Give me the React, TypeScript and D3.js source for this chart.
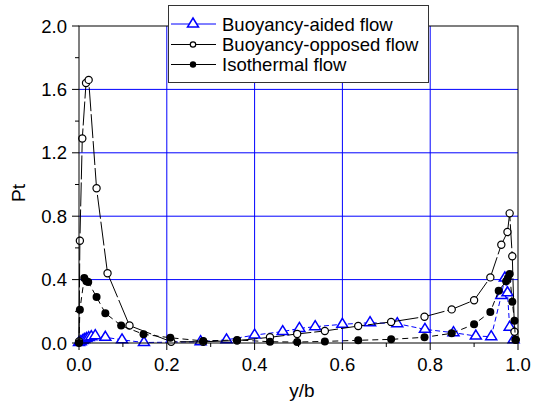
import React from "react";
import * as d3 from "d3";

// Normalised position across the channel (y/b) and turbulence production Pt
const aidedX = [0.0, 0.004, 0.008, 0.012, 0.017, 0.022, 0.028, 0.037, 0.06, 0.098, 0.148, 0.277, 0.336, 0.4, 0.464, 0.502, 0.538, 0.6, 0.663, 0.725, 0.788, 0.853, 0.904, 0.939, 0.962, 0.97, 0.976, 0.981, 0.99];
const aidedY = [0.003, 0.008, 0.015, 0.022, 0.028, 0.034, 0.04, 0.046, 0.036, 0.02, 0.003, 0.008, 0.02, 0.05, 0.072, 0.092, 0.103, 0.118, 0.128, 0.122, 0.086, 0.065, 0.044, 0.04, 0.3, 0.41, 0.317, 0.1, 0.02];

const opposedX = [0.0, 0.002, 0.0075, 0.016, 0.022, 0.04, 0.065, 0.115, 0.21, 0.283, 0.36, 0.435, 0.497, 0.56, 0.636, 0.711, 0.787, 0.849, 0.9, 0.937, 0.962, 0.976, 0.981, 0.987, 0.992, 0.995];
const opposedY = [0.01, 0.645, 1.29, 1.64, 1.66, 0.976, 0.44, 0.11, 0.008, 0.008, 0.015, 0.036, 0.057, 0.076, 0.107, 0.133, 0.166, 0.212, 0.27, 0.414, 0.62, 0.7, 0.818, 0.547, 0.071, 0.02];

const isoX = [0.0, 0.002, 0.012, 0.017, 0.021, 0.04, 0.06, 0.096, 0.147, 0.208, 0.283, 0.36, 0.435, 0.497, 0.56, 0.636, 0.711, 0.787, 0.849, 0.9, 0.937, 0.956, 0.973, 0.977, 0.981, 0.987, 0.992, 0.994];
const isoY = [0.0, 0.21, 0.41, 0.39, 0.385, 0.29, 0.188, 0.11, 0.055, 0.033, 0.013, 0.019, 0.008, 0.006, 0.01, 0.017, 0.023, 0.036, 0.061, 0.118, 0.196, 0.33, 0.39, 0.41, 0.435, 0.26, 0.14, 0.02];

const xTicks = [0, 0.2, 0.4, 0.6, 0.8, 1.0];
const yTicks = [0, 0.4, 0.8, 1.2, 1.6, 2.0];
const xMinor = [0.1, 0.3, 0.5, 0.7, 0.9];
const yMinor = [0.2, 0.6, 1.0, 1.4, 1.8];
const legendLabels = ["Buoyancy-aided flow", "Buoyancy-opposed flow", "Isothermal flow"];

const W = 536;
const H = 407;
const L = 79;
const R = 518;
const T = 26;
const B = 343;
const FONT = "'Liberation Sans', Arial, sans-serif";
const BLUE = "#0000ff";

const x = d3.scaleLinear().domain([0, 1]).range([L, R]);
const y = d3.scaleLinear().domain([0, 2]).range([B, T]);

type Pt = [number, number];
const zip = (xs: number[], ys: number[]): Pt[] => xs.map((v, i) => [v, ys[i]]);

const line = d3
  .line<Pt>()
  .x((d) => x(d[0]))
  .y((d) => y(d[1]));

const tri = (cx: number, cy: number, hw: number, h: number) =>
  `M${cx},${cy - (2 * h) / 3}L${cx + hw},${cy + h / 3}L${cx - hw},${cy + h / 3}Z`;

export default function App() {
  const aided = zip(aidedX, aidedY);
  const opposed = zip(opposedX, opposedY);
  const iso = zip(isoX, isoY);
  const fmt = d3.format(".1f");

  const legendRows = [T - 2, T + 18.5, T + 38.5];

  return (
    <svg width={W} height={H} style={{ position: "absolute", left: 0, top: 0 }} fontFamily={FONT}>
      <rect width={W} height={H} fill="#fff" />

      {/* grid */}
      {xTicks.slice(1, -1).map((t) => (
        <line key={"gx" + t} x1={x(t)} x2={x(t)} y1={T} y2={B} stroke={BLUE} strokeWidth={1} />
      ))}
      {yTicks.slice(1, -1).map((t) => (
        <line key={"gy" + t} x1={L} x2={R} y1={y(t)} y2={y(t)} stroke={BLUE} strokeWidth={1} />
      ))}

      {/* buoyancy-aided */}
      <path d={line(aided) || ""} fill="none" stroke={BLUE} strokeWidth={1} strokeDasharray="5,3" />
      {aided.map((d, i) => (
        <path key={"a" + i} d={tri(x(d[0]), y(d[1]), 5.5, 9)} fill="#fff" stroke={BLUE} strokeWidth={1.5} />
      ))}

      {/* buoyancy-opposed */}
      <path d={line(opposed) || ""} fill="none" stroke="#000" strokeWidth={1} strokeDasharray="24,3" />
      {opposed.map((d, i) => (
        <circle key={"o" + i} cx={x(d[0])} cy={y(d[1])} r={3.6} fill="#fff" stroke="#000" strokeWidth={1.2} />
      ))}

      {/* isothermal */}
      <path d={line(iso) || ""} fill="none" stroke="#000" strokeWidth={1} strokeDasharray="6,4" />
      {iso.map((d, i) => (
        <circle key={"i" + i} cx={x(d[0])} cy={y(d[1])} r={4} fill="#000" />
      ))}

      {/* frame */}
      <rect x={L} y={T} width={R - L} height={B - T} fill="none" stroke="#000" strokeWidth={1} />

      {/* x axis ticks */}
      {xTicks.map((t) => (
        <g key={"xt" + t}>
          <line x1={x(t)} x2={x(t)} y1={B} y2={B + 7} stroke="#000" />
          <text x={x(t)} y={B + 28} textAnchor="middle" fontSize={18.5}>
            {fmt(t)}
          </text>
        </g>
      ))}
      {xMinor.map((t) => (
        <line key={"xm" + t} x1={x(t)} x2={x(t)} y1={B} y2={B + 4} stroke="#000" />
      ))}

      {/* y axis ticks */}
      {yTicks.map((t) => (
        <g key={"yt" + t}>
          <line x1={L - 7} x2={L} y1={y(t)} y2={y(t)} stroke="#000" />
          <text x={L - 12} y={y(t) + 6.5} textAnchor="end" fontSize={18.5}>
            {fmt(t)}
          </text>
        </g>
      ))}
      {yMinor.map((t) => (
        <line key={"ym" + t} x1={L - 4} x2={L} y1={y(t)} y2={y(t)} stroke="#000" />
      ))}

      {/* axis titles */}
      <text x={302} y={397} textAnchor="middle" fontSize={19}>
        y/b
      </text>
      <text transform="translate(25,193) rotate(-90)" textAnchor="middle" fontSize={19}>
        Pt
      </text>

      {/* legend */}
      <rect x={168.5} y={5.5} width={260} height={77} fill="#fff" stroke="#333" strokeWidth={1} />
      {legendLabels.map((lab, i) => {
        const ly = legendRows[i];
        const cx = 193;
        const stroke = i === 0 ? BLUE : "#000";
        return (
          <g key={lab}>
            <line x1={171} x2={216} y1={ly} y2={ly} stroke={stroke} strokeWidth={1} />
            {i === 0 && <path d={tri(cx, ly, 5.5, 9)} fill="#fff" stroke={BLUE} strokeWidth={1.5} />}
            {i === 1 && <circle cx={cx} cy={ly} r={2.7} fill="#fff" stroke="#000" strokeWidth={1.2} />}
            {i === 2 && <circle cx={cx} cy={ly} r={3.2} fill="#000" />}
            <text x={222} y={ly + 6.5} fontSize={18.5}>
              {lab}
            </text>
          </g>
        );
      })}
    </svg>
  );
}
